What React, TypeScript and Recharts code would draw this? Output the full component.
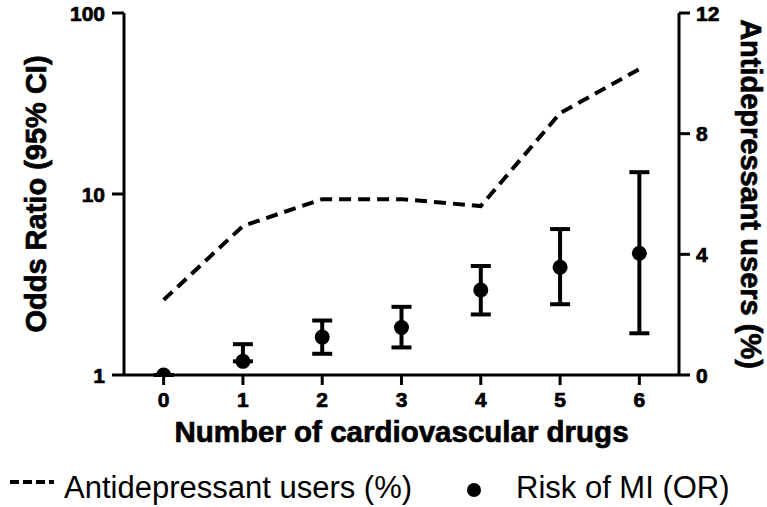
import { ComposedChart, Line, Scatter, ErrorBar, XAxis, YAxis, Legend } from 'recharts';

const categories = ['0', '1', '2', '3', '4', '5', '6'];
const antidepressantPct = [2.49, 4.94, 5.83, 5.83, 5.6, 8.68, 10.14];
const oddsRatio = [1.0, 1.19, 1.62, 1.83, 2.95, 3.94, 4.71];
const ciLow = [1.0, 1.19, 1.31, 1.42, 2.16, 2.46, 1.7];
const ciHigh = [1.0, 1.48, 2.0, 2.38, 4.0, 6.4, 13.2];
const leftTicks = [1, 10, 100];
const rightTicks = [0, 4, 8, 12];

const data = categories.map((n, i) => ({
  n,
  pct: antidepressantPct[i],
  or: oddsRatio[i],
  err: [oddsRatio[i] - ciLow[i], ciHigh[i] - oddsRatio[i]],
}));

const FONT = '"Liberation Sans", Arial, sans-serif';
// reference text is heavier than Liberation bold, a thin stroke helps
const heavy = { fontWeight: 700, fill: '#000', stroke: '#000', strokeWidth: 0.7, fontFamily: FONT };

const AxisTick = ({ x, y, payload, textAnchor, vertical }: any) => (
  <text x={x} y={y} dy={vertical ? '0.36em' : '0.71em'} textAnchor={textAnchor} fontSize={21} {...heavy}>
    {payload.value}
  </text>
);

const LeftTitle = ({ viewBox }: any) => {
  const cy = viewBox.y + viewBox.height / 2;
  return (
    <text x={46} y={cy} transform={`rotate(-90 46 ${cy})`} textAnchor="middle" fontSize={29} {...heavy}>
      Odds Ratio (95% CI)
    </text>
  );
};

const RightTitle = ({ viewBox }: any) => {
  const cy = viewBox.y + viewBox.height / 2;
  return (
    <text x={741} y={cy} transform={`rotate(90 741 ${cy})`} textAnchor="middle" fontSize={29} {...heavy}>
      Antidepressant users (%)
    </text>
  );
};

const BottomTitle = ({ viewBox }: any) => (
  <text x={viewBox.x + viewBox.width / 2} y={viewBox.y + viewBox.height - 13} textAnchor="middle" fontSize={29.5} {...heavy}>
    Number of cardiovascular drugs
  </text>
);

const Dot = (props: any) => <circle cx={props.cx} cy={props.cy} r={7.5} fill="#000" />;

const renderLegend = () => (
  <div style={{ position: 'relative', height: 52, fontFamily: FONT, fontSize: 31, color: '#000' }}>
    <svg width={50} height={20} style={{ position: 'absolute', left: 8, top: 17 }}>
      <line x1={2} y1={10} x2={46} y2={10} stroke="#000" strokeWidth={4} strokeDasharray="9 4" />
    </svg>
    <span style={{ position: 'absolute', left: 64, top: 15, lineHeight: '36px', whiteSpace: 'nowrap' }}>
      Antidepressant users (%)
    </span>
    <svg width={20} height={20} style={{ position: 'absolute', left: 464, top: 25 }}>
      <circle cx={10} cy={10} r={7} fill="#000" />
    </svg>
    <span style={{ position: 'absolute', left: 516, top: 15, lineHeight: '36px', whiteSpace: 'nowrap' }}>
      Risk of MI (OR)
    </span>
  </div>
);

export default function App() {
  const axisLine = { stroke: '#000', strokeWidth: 3 };
  return (
    <div style={{ position: 'absolute', left: 0, top: 0 }}>
      <ComposedChart
        width={767}
        height={507}
        data={data}
        margin={{ top: 13, right: 0, left: 0, bottom: 0 }}
        style={{ fontFamily: FONT }}
      >
        <XAxis
          dataKey="n"
          type="category"
          scale="band"
          height={80}
          tick={<AxisTick />}
          tickSize={10}
          tickMargin={7}
          axisLine={axisLine}
          tickLine={axisLine}
          label={<BottomTitle />}
        />
        <YAxis
          yAxisId="left"
          width={124}
          scale="log"
          domain={[1, 100]}
          ticks={leftTicks}
          allowDataOverflow
          tick={<AxisTick vertical />}
          tickSize={12}
          tickMargin={7}
          axisLine={axisLine}
          tickLine={axisLine}
          label={<LeftTitle />}
        />
        <YAxis
          yAxisId="right"
          orientation="right"
          width={88}
          domain={[0, 12]}
          ticks={rightTicks}
          tick={<AxisTick vertical />}
          tickSize={11}
          tickMargin={6}
          axisLine={axisLine}
          tickLine={axisLine}
          label={<RightTitle />}
        />
        <Line
          yAxisId="right"
          dataKey="pct"
          stroke="#000"
          strokeWidth={4}
          strokeDasharray="12 7"
          dot={false}
          activeDot={false}
          isAnimationActive={false}
        />
        <Scatter yAxisId="left" dataKey="or" fill="#000" shape={<Dot />} isAnimationActive={false}>
          <ErrorBar dataKey="err" direction="y" width={10} stroke="#000" strokeWidth={4} />
        </Scatter>
        <Legend verticalAlign="bottom" content={renderLegend} wrapperStyle={{ left: 0, bottom: 0, width: 767, height: 52 }} />
      </ComposedChart>
    </div>
  );
}
